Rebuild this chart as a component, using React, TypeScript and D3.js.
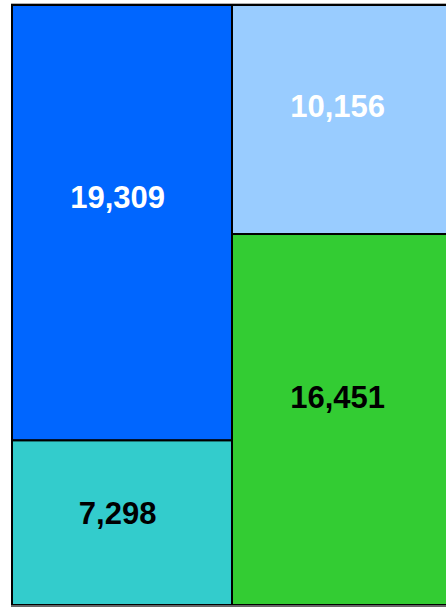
import * as d3 from 'd3';
import React from 'react';

// two columns, each split top / bottom
const columns = ['left', 'right'];
const cellNames = ['A', 'B', 'C', 'D'];
const cellColumn = [0, 0, 1, 1];
const cellValues = [19309, 7298, 10156, 16451];

const palette = ['#0066FF', '#33CCCC', '#99CCFF', '#33CC33'];
const textColors = ['#ffffff', '#000000', '#ffffff', '#000000'];

const W = 446, H = 608;
const left = 12, top = 5, innerW = 440, innerH = 600;

export default function App() {
    const data = {
        name: 'root',
        children: columns.map((c, ci) => ({
            name: c,
            children: cellNames
                .map((n, i) => ({ name: n, value: cellValues[i], idx: i }))
                .filter(d => cellColumn[d.idx] === ci),
        })),
    };

    const root = d3.hierarchy<any>(data).sum(d => d.value || 0);
    const layout = d3.treemap<any>()
        .size([innerW, innerH])
        .tile((node, x0, y0, x1, y1) => {
            if (node.depth === 0) d3.treemapDice(node, x0, y0, x1, y1);
            else d3.treemapSlice(node, x0, y0, x1, y1);
        });
    layout(root);
    const leaves = root.leaves() as d3.HierarchyRectangularNode<any>[];
    const fmt = d3.format(',');

    return (
        <svg width={W} height={H} style={{ position: 'absolute', left: 0, top: 0, display: 'block' }}>
            <rect width={W} height={H} fill="#ffffff" />
            <line x1={left - 1} x2={W} y1={3.5} y2={3.5} stroke="#b0b0b0" strokeWidth={1} />
            <g transform={`translate(${left},${top})`}>
                {leaves.map(d => (
                    <rect key={d.data.name} x={d.x0} y={d.y0}
                        width={d.x1 - d.x0} height={d.y1 - d.y0}
                        fill={palette[d.data.idx]} stroke="#000" strokeWidth={2} />
                ))}
                {leaves.map(d => (
                    <text key={'t' + d.data.name}
                        x={d.x0 + (d.x1 - d.x0) * 0.48}
                        y={d.y0 + (d.y1 - d.y0) * 0.44}
                        dy="0.36em"
                        textAnchor="middle"
                        fill={textColors[d.data.idx]}
                        fontFamily="'Liberation Sans', Arial, sans-serif"
                        fontWeight="bold"
                        fontSize={31}>
                        {fmt(d.data.value)}
                    </text>
                ))}
            </g>
            <line x1={left - 1} x2={W} y1={606} y2={606} stroke="#666" strokeWidth={2} />
        </svg>
    );
}
